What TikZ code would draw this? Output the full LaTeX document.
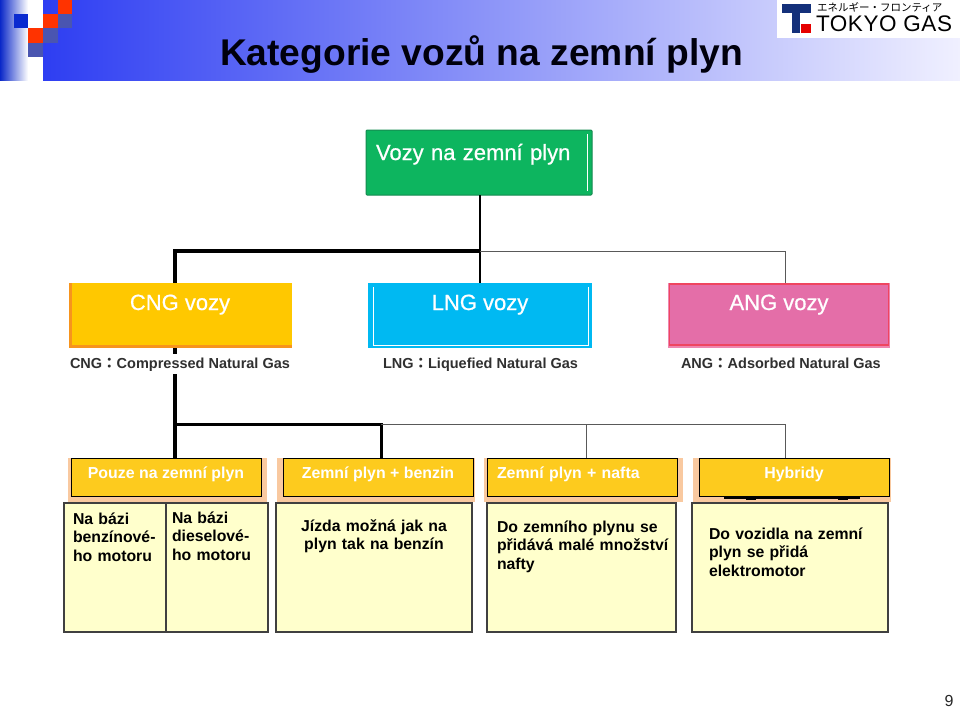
\documentclass[tikz,border=0pt]{standalone}
\usepackage{fontspec}
\setmainfont{Liberation Sans}
\newfontfamily\cjkfont{Noto Sans CJK JP}
\newfontfamily\catfont[FakeBold=0.7]{Liberation Sans}
\usetikzlibrary{arrows.meta,calc,positioning}
\definecolor{headblue}{HTML}{2E3EF2}
\definecolor{headpale}{HTML}{F0F0FF}
\definecolor{stripblue}{HTML}{0A28C8}
\definecolor{squareblue}{HTML}{0A2AD0}
\definecolor{squarered}{HTML}{FF3300}
\definecolor{squareslate}{HTML}{4A55B0}
\definecolor{rootgreen}{HTML}{0DB55F}
\definecolor{rootedge}{HTML}{158A50}
\definecolor{cnggold}{HTML}{FFC800}
\definecolor{cngedge}{HTML}{F7941D}
\definecolor{lngblue}{HTML}{00B9F2}
\definecolor{angpink}{HTML}{E46EA8}
\definecolor{angedge}{HTML}{EF4560}
\definecolor{angband}{HTML}{EE85B0}
\definecolor{backsalmon}{HTML}{F9C9A0}
\definecolor{kindgold}{HTML}{FDCB1E}
\definecolor{notecream}{HTML}{FFFFCC}
\definecolor{logonavy}{HTML}{14307A}
\definecolor{captiongray}{HTML}{303030}
\tikzset {
  >=Stealth,
  every node/.style={inner sep=0pt,outer sep=0pt},
  heavy/.style={line width=4pt,black},
  medium/.style={line width=3pt,black},
  slim/.style={line width=2.4pt,black},
  hair/.style={line width=1pt,black!65},
  catbox/.style={minimum height=65pt,text height=27pt,text depth=38pt,text=white,
    font=\catfont\fontsize{22}{26}\selectfont},
  caption/.style={fill=white,inner ysep=3pt,text=captiongray,
    font=\fontsize{14.5}{18}\selectfont\bfseries},
  backbox/.style={fill=backsalmon,minimum height=44pt},
  kindbox/.style={draw=black,line width=1pt,fill=kindgold,minimum height=38pt,
    text height=20pt,text depth=18pt,text=white,
    font=\fontsize{15.9}{18}\selectfont\bfseries},
  notebox/.style={draw=black!75,line width=1.1pt,fill=notecream,
    font=\fontsize{15.8}{18.7}\selectfont\bfseries},
}
\begin{document}
\begin{tikzpicture}[x=1pt,y=-1pt]
  \useasboundingbox (0,0) rectangle (960,709);
  \shade[left color=stripblue,right color=white] (0,0) rectangle (28,80);
  \shade[left color=headblue,right color=headpale] (43,0) rectangle (960,80);
  \fill[squareblue] (14,14) rectangle (28,28);
  \fill[squarered] (58,0) rectangle (72,14);
  \fill[squarered] (43,14) rectangle (58,28);
  \fill[squarered] (28,28) rectangle (43,43);
  \fill[squareslate] (58,14) rectangle (72,28);
  \fill[squareslate] (43,28) rectangle (58,43);
  \fill[squareslate] (28,43) rectangle (43,57);
  \node[anchor=base west,font=\fontsize{37.2}{42}\selectfont\bfseries,text=black!95!blue]
    (title) at (220,65) {Kategorie vozů na zemní plyn};

  \fill[white] (777,0) rectangle (960,38);
  \fill[logonavy] (782,4) rectangle (811,13);
  \fill[logonavy] (792,13) rectangle (800,33);
  \fill[red!90!black] (801,24) rectangle (811,33);
  \node[anchor=base west,font=\cjkfont\fontsize{10.5}{12}\selectfont]
    (logokana) at (817,11.5) {エネルギー・フロンティア};
  \node[anchor=base west,font=\addfontfeature{LetterSpace=2.5}\fontsize{22.5}{26}\selectfont]
    (logoname) at (816,32) {TOKYO GAS};

  \node[catbox,fill=rootgreen,draw=rootedge,line width=1pt,rounded corners=1pt,minimum width=226pt,
    text width=206pt,align=left,text height=29pt,text depth=34pt] (root) at (479,162.5) {Vozy na zemní plyn};
  \draw[white,line width=1pt] (587,134) -- (587,191);

  \node[catbox,fill=cnggold,minimum width=223pt] (cng) at (180,315.5) {CNG vozy};
  \fill[cngedge] (cng.north west) rectangle ([xshift=3pt]cng.south west);
  \fill[cngedge] ([yshift=3pt]cng.south west) rectangle (cng.south east);

  \node[catbox,fill=lngblue,minimum width=224pt] (lng) at (480,315.5) {LNG vozy};
  \draw[white,line width=.8pt] (373,287) -- (373,345) -- (588,345) -- (588,287);

  \node[fill=angband,minimum width=222pt,minimum height=65pt] (angback) at (779,315.5) {};
  \node[catbox,fill=angpink,draw=angedge,line width=1.6pt,minimum width=219pt,minimum height=61pt,
    text height=26pt,text depth=35pt] (ang) at (779,314.5) {ANG vozy};

  \coordinate (rootjoin) at (lng.north |- 0,251);
  \coordinate (cngtop) at (175,283);
  \coordinate (cngjoin) at (175,251);
  \coordinate (angtop) at (785,283);
  \coordinate (angjoin) at (785,251);
  \coordinate (cngfoot) at (175,348);
  \coordinate (kindjoin) at (175,424);
  \coordinate (pouzetop) at (175,458);
  \coordinate (benzinjoin) at (381,424);
  \coordinate (benzintop) at (381,458);
  \coordinate (naftajoin) at (586,424);
  \coordinate (naftatop) at (586,458);
  \coordinate (hybridjoin) at (785,424);
  \coordinate (hybridtop) at (785,458);

  \draw[slim] (lng.north |- root.south) -- (lng.north);
  \draw[heavy] (rootjoin) -- (cngjoin) -- (cngtop);
  \draw[hair] (rootjoin) -- (angjoin) -- (angtop);
  \draw[heavy] (cngfoot) -- (pouzetop);
  \draw[medium] (kindjoin) -- (benzinjoin) -- (benzintop);
  \draw[hair] (benzinjoin) -- (hybridjoin) -- (hybridtop);
  \draw[hair] (naftajoin) -- (naftatop);

  \node[caption,anchor=base west] (cngnote) at (70,368) {CNG{\cjkfont：}Compressed Natural Gas};
  \node[caption,anchor=base west] (lngnote) at (383,368) {LNG{\cjkfont：}Liquefied Natural Gas};
  \node[caption,anchor=base west] (angnote) at (681,368) {ANG{\cjkfont：}Adsorbed Natural Gas};

  \node[backbox,minimum width=199pt] (pouzeback) at (167.5,480) {};
  \node[backbox,minimum width=198pt] (benzinback) at (376,480) {};
  \node[backbox,minimum width=199pt] (naftaback) at (583.5,480) {};
  \node[backbox,minimum width=198pt] (hybridback) at (792,480) {};
  \draw[line width=2.2pt,black] (724,498) -- (860,498);
  \draw[line width=2.2pt,black] (746,499) -- (756,499);
  \draw[line width=2.2pt,black] (838,499) -- (848,499);
  \node[kindbox,minimum width=190pt] (pouze) at (166,477) {Pouze na zemní plyn};
  \node[kindbox,minimum width=190pt] (benzin) at (378,477) {Zemní plyn + benzin};
  \node[kindbox,minimum width=190pt,text width=170pt,align=left] (nafta) at (582,477) {Zemní plyn + nafta};
  \node[kindbox,minimum width=190pt] (hybrid) at (794,477) {Hybridy};

  \node[notebox,minimum width=102pt,text width=84pt,align=left,text height=21pt,text depth=108pt]
    (benzinmotor) at (115,567.5) {Na bázi\\benzínové-\\ho motoru};
  \node[notebox,minimum width=102pt,text width=90pt,align=left,text height=20pt,text depth=109pt]
    (dieselmotor) at (217,567.5) {Na bázi\\dieselové-\\ho motoru};
  \node[notebox,minimum width=196pt,text width=180pt,align=center,text height=28pt,text depth=101pt]
    (jizda) at (374,567.5) {Jízda možná jak na\\plyn tak na benzín};
  \node[notebox,minimum width=189pt,text width=169pt,align=left,text height=29pt,text depth=100pt]
    (malo) at (581.5,567.5) {Do zemního plynu se\\\mbox{přidává malé množství}\\nafty};
  \node[notebox,minimum width=196pt,text width=162pt,align=left,text height=36pt,text depth=93pt]
    (elektro) at (790,567.5) {Do vozidla na zemní\\plyn se přidá\\elektromotor};

  \node[font=\fontsize{16}{18}\selectfont,text=black!85,anchor=base] (pagenum) at (949,706.5) {9};
\end{tikzpicture}
\end{document}
